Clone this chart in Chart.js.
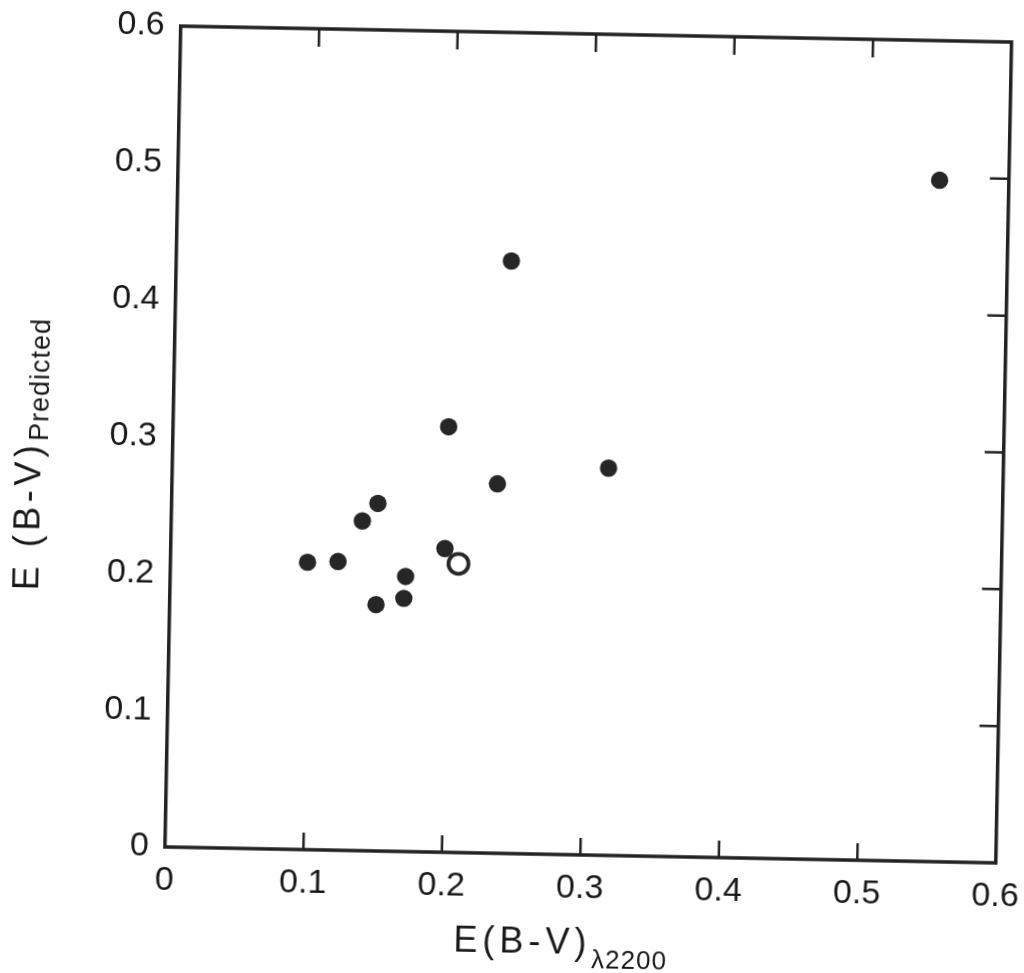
<!DOCTYPE html>
<html>
<head>
<meta charset="utf-8">
<title>E(B-V) predicted vs. E(B-V) from the 2200 Å feature</title>
<script src="https://cdn.jsdelivr.net/npm/chart.js@4.4.1/dist/chart.umd.min.js"></script>
<style>
  html, body { margin: 0; padding: 0; background: #fff; overflow: hidden; width: 1024px; height: 973px; }
  /* the whole sheet sits slightly turned, like a mounted plate */
  #sheet { position: absolute; left: 0; top: 0; width: 1060px; height: 973px;
           transform-origin: 588px 444px; transform: rotate(1.1deg); }
  #plot { position: absolute; left: 0; top: 0; }
  .axis-title { position: absolute; white-space: nowrap; color: #181818;
                font-family: "Liberation Sans", Arial, sans-serif; }
  #xTitle { left: 463px; top: 924px; font-size: 36px; line-height: 36px; letter-spacing: 5px; }
  #xTitle span { font-size: 26px; letter-spacing: 1px; position: relative; top: 14px; }
  #yTitle { left: 11px; top: 601px; font-size: 36px; line-height: 36px; letter-spacing: 4.5px;
            transform-origin: 0 0; transform: rotate(-90deg); }
  #yTitle span { font-size: 27px; letter-spacing: 1px; position: relative; top: 7px; }
</style>
</head>
<body>
<div id="sheet">
  <canvas id="plot" width="1060" height="973"></canvas>
  <div class="axis-title" id="xTitle">E(B-V)<span>λ2200</span></div>
  <div class="axis-title" id="yTitle">E (B-V)<span>Predicted</span></div>
</div>
<script>
// Filled circles: colour excess from the 2200 Å bump (x) against the predicted excess (y)
const filledX = [0.099, 0.121, 0.138, 0.149, 0.149, 0.170, 0.169, 0.198, 0.199, 0.242, 0.235, 0.315, 0.550];
const filledY = [0.210, 0.211, 0.241, 0.254, 0.180, 0.201, 0.185, 0.222, 0.311, 0.433, 0.270, 0.283, 0.498];
// Open circle
const openX = [0.208];
const openY = [0.211];
// Axis ticks
const xTickValues = [0, 0.1, 0.2, 0.3, 0.4, 0.5, 0.6];
const xTickLabels = ['0', '0.1', '0.2', '0.3', '0.4', '0.5', '0.6'];
const yTickValues = [0, 0.1, 0.2, 0.3, 0.4, 0.5, 0.6];
const yTickLabels = ['0', '0.1', '0.2', '0.3', '0.4', '0.5', '0.6'];

const ink = '#262626';
const toPoints = (xs, ys) => xs.map((v, i) => ({ x: v, y: ys[i] }));

// Box frame with inward tick marks on bottom, top and right edges
const frameTicks = {
  id: 'frameTicks',
  beforeDatasetsDraw(chart) {
    const { ctx, chartArea: a, scales: { x, y } } = chart;
    ctx.save();
    ctx.strokeStyle = '#222222';
    ctx.lineWidth = 3.5;
    ctx.strokeRect(a.left, a.top, a.right - a.left, a.bottom - a.top);
    ctx.lineWidth = 2.5;
    ctx.beginPath();
    xTickValues.slice(1, -1).forEach(v => {
      const px = x.getPixelForValue(v);
      ctx.moveTo(px, a.bottom); ctx.lineTo(px, a.bottom - 17);
      ctx.moveTo(px, a.top); ctx.lineTo(px, a.top + 18);
    });
    yTickValues.slice(1, -1).forEach(v => {
      const py = y.getPixelForValue(v);
      ctx.moveTo(a.right, py); ctx.lineTo(a.right - 19, py);
    });
    ctx.stroke();
    ctx.restore();
  }
};

const tickFont = { family: '"Liberation Sans", Arial, sans-serif', size: 34 };

new Chart(document.getElementById('plot'), {
  type: 'scatter',
  data: {
    datasets: [
      {
        data: toPoints(filledX, filledY),
        pointRadius: 8.7, pointHoverRadius: 8.7,
        pointBackgroundColor: ink, pointBorderWidth: 0, borderColor: ink
      },
      {
        data: toPoints(openX, openY),
        pointRadius: 10, pointHoverRadius: 10,
        pointBackgroundColor: '#ffffff', pointBorderColor: ink, pointBorderWidth: 3.8
      }
    ]
  },
  options: {
    responsive: false,
    animation: false,
    events: [],
    layout: { padding: { left: 0, top: 34, right: 56.25, bottom: 0 } },
    plugins: { legend: { display: false }, tooltip: { enabled: false } },
    scales: {
      x: {
        type: 'linear', min: 0, max: 0.6,
        afterBuildTicks: s => { s.ticks = xTickValues.map(v => ({ value: v })); },
        afterFit: s => { s.height = 118; s.paddingLeft = 0; s.paddingRight = 0; },
        grid: { display: false, drawTicks: false },
        border: { display: false },
        ticks: {
          font: tickFont, color: '#181818', padding: 13, maxRotation: 0, autoSkip: false,
          callback: (v, i) => xTickLabels[i]
        }
      },
      y: {
        type: 'linear', min: 0, max: 0.6,
        afterBuildTicks: s => { s.ticks = yTickValues.map(v => ({ value: v })); },
        afterFit: s => { s.width = 172.75; s.paddingTop = 0; s.paddingBottom = 0; },
        grid: { display: false, drawTicks: false },
        border: { display: false },
        ticks: {
          font: tickFont, color: '#181818', padding: 16, autoSkip: false,
          callback: (v, i) => yTickLabels[i]
        }
      }
    }
  },
  plugins: [frameTicks]
});
</script>
</body>
</html>
